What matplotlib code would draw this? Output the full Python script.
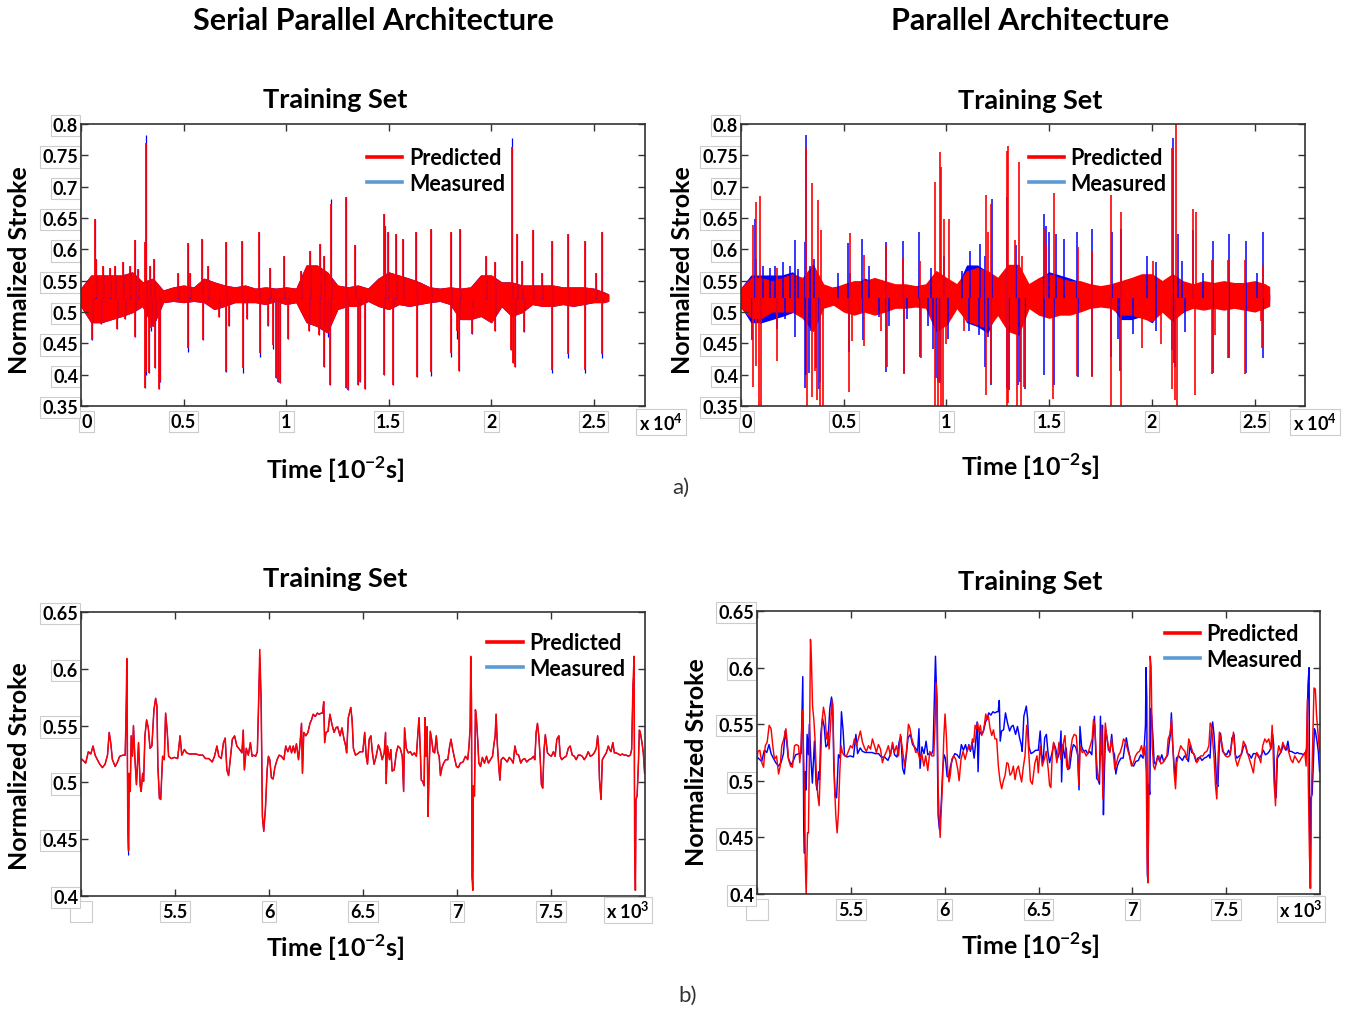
import numpy as np
import matplotlib
matplotlib.use("Agg")
import matplotlib.pyplot as plt
from matplotlib.lines import Line2D

plt.rcParams['font.family'] = ['Lato', 'DejaVu Sans']
plt.rcParams['mathtext.fontset'] = 'custom'
plt.rcParams['mathtext.rm'] = 'Lato'
plt.rcParams['mathtext.bf'] = 'Lato:bold'

# ---------------- top row: full training set (samples 0..25700) ----------------
# core band of the signal, read every 500 samples (upper / lower edge)
band_t = np.r_[np.arange(0, 26000, 500), 25700]
meas_hi = [.537, .558, .558, .558, .558, .563, .547, .553, .534, .539, .542, .539, .553,
           .547, .542, .539, .542, .537, .539, .537, .539, .537, .574, .574, .563, .542,
           .539, .542, .537, .553, .563, .558, .553, .547, .539, .537, .539, .537, .539,
           .558, .558, .547, .547, .542, .542, .542, .542, .539, .539, .539, .537, .531, .528]
meas_lo = [.510, .484, .484, .489, .494, .500, .510, .478, .516, .518, .516, .518, .516,
           .505, .510, .516, .516, .516, .513, .518, .513, .516, .484, .478, .468, .505,
           .510, .510, .518, .510, .505, .513, .510, .513, .516, .518, .513, .489, .489,
           .494, .484, .510, .494, .500, .513, .510, .510, .513, .510, .513, .516, .516, .518]
pp_hi = [.538, .554, .554, .549, .554, .560, .554, .575, .544, .538, .544, .549, .549,
         .554, .549, .544, .544, .541, .544, .565, .554, .544, .565, .570, .565, .554,
         .575, .575, .544, .554, .560, .554, .549, .549, .544, .541, .544, .549, .554,
         .560, .560, .549, .560, .549, .544, .549, .546, .549, .546, .546, .549, .544, .540]
pp_lo = [.507, .491, .491, .501, .501, .501, .491, .470, .507, .512, .501, .496, .501,
         .496, .501, .507, .507, .509, .507, .470, .480, .507, .486, .480, .475, .496,
         .470, .464, .507, .496, .491, .496, .496, .501, .507, .509, .507, .496, .496,
         .491, .486, .501, .486, .501, .507, .504, .507, .504, .507, .504, .501, .507, .510]

# isolated spikes of the measured stroke
meas_up_t = [676, 747, 1086, 1406, 1673, 2029, 2385, 2652, 2795, 3133, 3168, 3364, 3542,
             4735, 5215, 5322, 5910, 6212, 7049, 7868, 8686, 9238, 9897, 10733, 11160,
             11641, 11855, 12193, 12923, 13368, 14756, 14845, 14970, 15344, 15700, 16340,
             17088, 18049, 18494, 19758, 20203, 21004, 21253, 21485, 22019, 22464, 22962,
             23745, 24564, 25098, 25418]
meas_up_v = [.648, .584, .574, .571, .574, .580, .574, .615, .569, .611, .782, .574, .584,
             .562, .610, .563, .617, .574, .611, .613, .628, .571, .590, .566, .598,
             .608, .590, .680, .683, .607, .657, .637, .627, .624, .616, .628,
             .633, .628, .632, .590, .579, .777, .624, .582, .631, .563, .613,
             .624, .613, .563, .628]
meas_dn_t = [516, 997, 1744, 2154, 2652, 3115, 3186, 3311, 3418, 3631, 3791, 3830, 5233,
             5945, 6711, 7049, 7227, 7921, 8081, 8704, 9114, 9345, 9505, 9612, 9701,
             10093, 11107, 11606, 11855, 12033, 12157, 12940, 13030, 13492, 13599, 13831,
             14756, 15237, 16394, 17088, 18031, 18334, 18441, 19064, 20185, 20986, 21075,
             21146, 21610, 22962, 23745, 24564, 25400]
meas_dn_v = [.455, .481, .473, .489, .460, .379, .399, .402, .469, .410, .377, .388, .436,
             .456, .492, .404, .478, .402, .489, .428, .478, .441, .394, .388, .386,
             .457, .470, .463, .412, .460, .383, .378, .375, .383, .388, .377,
             .399, .383, .397, .398, .428, .457, .406, .465, .470, .439, .418,
             .412, .468, .402, .427, .402, .427]
# serial-parallel prediction: same spikes, slightly short where the blue tip shows
sp_up_fix = {3168: .770, 12193: .672, 21004: .764}
sp_dn_fix = {3186: .405, 3418: .475, 5233: .442, 7921: .410, 8704: .435, 9345: .448,
             12033: .466, 17088: .404, 18031: .434, 18334: .470, 22962: .408,
             23745: .433, 24564: .408, 25400: .433}

# parallel prediction spikes
pp_up_t = [567, 745, 922, 1755, 3174, 3457, 3759, 3901, 5284, 5975, 7074, 7890, 8723,
           9432, 9663, 9752, 9876, 10141, 11915, 12021, 12181, 12943, 13014, 13333, 13510,
           13688, 14805, 14840, 15230, 16400, 17092, 18031, 18510, 20035, 20957, 21187,
           21985, 22127, 22907, 23705, 24538, 25389]
pp_up_v = [.639, .676, .685, .570, .763, .706, .678, .631, .626, .591, .607, .586, .582,
           .708, .756, .731, .649, .649, .686, .628, .673, .757, .765, .615, .739,
           .589, .633, .607, .690, .604, .598, .686, .659, .582, .761, .810,
           .665, .659, .583, .583, .583, .575]
pp_dn_t = [567, 745, 869, 975, 1773, 3191, 3457, 3581, 3723, 3847, 3971, 5266, 5390,
           5975, 6808, 7092, 7925, 8758, 9432, 9574, 9716, 9840, 9964, 10851, 11915,
           12181, 12943, 13014, 13457, 13617, 13776, 15195, 16347, 17091, 18031, 18475,
           19538, 20461, 20993, 21099, 21223, 22073, 22907, 23049, 23705, 24538, 25301, 25336]
pp_dn_v = [.380, .414, .340, .340, .422, .340, .364, .406, .359, .340, .340, .372, .454,
           .446, .470, .412, .401, .427, .340, .340, .340, .340, .449, .470, .367,
           .385, .340, .354, .340, .340, .380, .361, .398, .396, .340, .340,
           .443, .449, .377, .359, .340, .367, .401, .464, .427, .401, .486, .443]

# ---------------- bottom row: zoom on samples 5000..8000 ----------------
bot_t = [5000, 5007, 5025, 5039, 5052, 5064, 5075, 5087, 5100, 5114, 5128, 5141, 5150,
         5158, 5167, 5182, 5194, 5206, 5224, 5235, 5239, 5244, 5247, 5249, 5253, 5256,
         5262, 5267, 5274, 5279, 5287, 5295, 5306, 5315, 5320, 5328, 5333, 5340, 5349,
         5358, 5367, 5377, 5388, 5397, 5404, 5409, 5417, 5424, 5434, 5443, 5450, 5459,
         5466, 5479, 5497, 5514, 5527, 5536, 5550, 5562, 5577, 5595, 5612, 5630, 5648,
         5662, 5680, 5698, 5710, 5723, 5733, 5746, 5758, 5767, 5776, 5785, 5794, 5805,
         5817, 5829, 5844, 5856, 5863, 5869, 5879, 5890, 5901, 5910, 5918, 5929, 5938,
         5943, 5951, 5958, 5961, 5965, 5972, 5981, 5990, 5997, 6004, 6013, 6022, 6031,
         6043, 6054, 6066, 6079, 6089, 6100, 6111, 6120, 6129, 6137, 6146, 6157, 6164,
         6173, 6178, 6185, 6196, 6207, 6218, 6226, 6235, 6246, 6257, 6267, 6278, 6285,
         6291, 6296, 6303, 6314, 6324, 6335, 6346, 6356, 6365, 6378, 6388, 6399, 6408,
         6413, 6422, 6435, 6442, 6449, 6460, 6470, 6485,
         6499, 6509, 6517, 6524, 6533, 6542, 6550, 6559, 6570, 6582, 6591, 6602, 6613,
         6620, 6623, 6630, 6641, 6648, 6655, 6666, 6677, 6686, 6698, 6709, 6716, 6721,
         6730, 6741, 6752, 6762, 6773, 6784, 6791, 6798, 6805, 6810, 6817, 6825, 6830,
         6835, 6841, 6846, 6851, 6858, 6865, 6873, 6881, 6890, 6897, 6905, 6912, 6920,
         6929, 6940, 6951, 6961, 6968, 6977, 6986, 6997, 7007, 7018, 7032, 7045, 7057,
         7064, 7070, 7073, 7077, 7080, 7084, 7087, 7093, 7098, 7103, 7111, 7116, 7125,
         7135, 7146, 7157, 7167, 7178, 7189, 7196, 7203, 7208, 7214, 7221, 7228, 7235,
         7246, 7257, 7267, 7278, 7289, 7299, 7308, 7317, 7328, 7339, 7349, 7360, 7371,
         7383, 7396, 7407, 7414, 7421, 7428, 7435, 7442, 7449, 7456, 7463, 7470, 7481,
         7492, 7502, 7513, 7522, 7531, 7542, 7549, 7557, 7570, 7581, 7592, 7602, 7613,
         7624, 7634, 7645, 7656, 7666, 7677, 7688, 7698, 7709, 7720, 7730, 7741, 7748,
         7753, 7758, 7766, 7773, 7783, 7794, 7805, 7812, 7819, 7829, 7837, 7847, 7858,
         7869, 7879, 7890, 7901, 7911, 7922, 7929, 7936, 7942, 7945, 7949, 7952, 7958,
         7965, 7970, 7975, 7984, 7991, 7998]
bot_meas = [.521, .520, .517, .527, .525, .532, .524, .520, .516, .513, .516, .524, .544,
            .535, .520, .514, .518, .523, .524, .524, .553, .592, .511, .461, .436, .508,
            .492, .541, .523, .550, .520, .498, .535, .497, .492, .508, .501, .541, .555,
            .548, .530, .532, .564, .574, .567, .514, .486, .485, .523, .520, .561, .544,
            .523, .521, .522, .521, .541, .524, .529, .526, .525, .525, .525, .524, .524,
            .521, .521, .518, .523, .532, .523, .521, .535, .539, .511, .506, .520, .538,
            .541, .532, .529, .526, .546, .511, .530, .524, .535, .523, .524, .523, .527,
            .558, .610, .573, .529, .470, .457, .477, .511, .523, .520, .504, .503, .513,
            .520, .524, .523, .520, .532, .527, .532, .526, .532, .526, .534, .520, .532,
            .552, .508, .544, .541, .544, .552, .555, .560, .558, .561, .560, .561, .561,
            .571, .535, .544, .545, .560, .551, .544, .548, .549, .541, .548, .538, .532,
            .526, .557, .566, .555, .530, .524, .525, .527,
            .527, .544, .523, .516, .538, .541, .526, .516, .523, .533, .529, .520, .526,
            .544, .499, .532, .520, .529, .510, .511, .526, .532, .530, .523, .492, .548,
            .530, .526, .527, .524, .526, .523, .541, .557, .527, .502, .501, .497, .557,
            .523, .549, .470, .508, .545, .538, .527, .526, .541, .527, .523, .506, .513,
            .517, .520, .520, .532, .538, .529, .522, .514, .513, .517, .518, .523, .520,
            .532, .549, .600, .573, .417, .410, .497, .488, .564, .557, .535, .517, .514,
            .522, .517, .523, .517, .520, .523, .533, .541, .560, .535, .517, .502, .520,
            .522, .520, .518, .522, .520, .517, .532, .525, .524, .517, .520, .521, .518,
            .520, .521, .523, .520, .544, .552, .541, .523, .498, .495, .529, .542, .526,
            .524, .523, .527, .523, .538, .541, .523, .520, .522, .523, .530, .532, .524,
            .523, .520, .524, .524, .523, .520, .523, .527, .523, .524, .526, .530, .541,
            .532, .502, .485, .520, .523, .526, .532, .529, .527, .535, .526, .526, .525,
            .524, .525, .524, .524, .523, .524, .529, .585, .600, .447, .405, .485, .488,
            .517, .546, .544, .535, .526, .508]
# where the serial-parallel prediction departs from the measurement
sp_bot_fix = {5244: .609, 5253: .440, 5951: .617, 7073: .611, 7084: .405, 7942: .611}

pp_bot_t = [5000, 5005, 5015, 5026, 5035, 5044, 5054, 5065, 5075, 5084, 5093, 5104, 5115,
            5124, 5132, 5143, 5154, 5161, 5168, 5179, 5189, 5200, 5210, 5221, 5228, 5235,
            5242, 5250, 5257, 5262, 5269, 5274, 5280, 5285, 5290, 5296, 5303, 5310, 5317,
            5324, 5331, 5338, 5345, 5354, 5363, 5370, 5377, 5384, 5391, 5399, 5406, 5413,
            5420, 5427, 5434, 5441, 5448, 5455, 5466, 5477, 5487, 5498, 5509, 5519, 5530,
            5541, 5551, 5562, 5573, 5583, 5594, 5605, 5615, 5626, 5636, 5647, 5658, 5668,
            5679, 5690, 5700, 5711, 5722, 5732, 5743, 5754, 5764, 5775, 5786, 5796, 5807,
            5814, 5825, 5836, 5846, 5857, 5867, 5878, 5889, 5899, 5910, 5921, 5931, 5942,
            5949, 5954, 5960, 5965, 5970, 5976, 5981, 5988, 5995, 6002, 6009, 6016, 6023,
            6030, 6038, 6048, 6059, 6070, 6077, 6087, 6098, 6109, 6119, 6130, 6141, 6148,
            6155, 6162, 6169, 6176, 6183, 6190, 6197, 6205, 6212, 6219, 6226, 6233, 6242,
            6251, 6260, 6268, 6277, 6286, 6295, 6304, 6313, 6322, 6331, 6339, 6348, 6357,
            6366, 6375, 6384, 6393, 6402, 6410, 6419, 6428, 6437, 6442, 6449, 6457, 6467,
            6481, 6492, 6499, 6509, 6520, 6531, 6541, 6552, 6559, 6566, 6573, 6580, 6588,
            6598, 6609, 6619, 6630, 6641, 6650, 6659, 6669, 6680, 6690, 6701, 6708, 6715,
            6722, 6733, 6744, 6754, 6765, 6776, 6786, 6793, 6800, 6808, 6815, 6822, 6829,
            6836, 6843, 6848, 6856, 6863, 6872, 6880, 6889, 6898, 6907, 6916, 6925, 6935,
            6946, 6953, 6964, 6974, 6985, 6996, 7006, 7017, 7028, 7038, 7049, 7060, 7067,
            7074, 7079, 7083, 7088, 7092, 7095, 7100, 7106, 7113, 7120, 7131, 7141, 7152,
            7163, 7173, 7184, 7191, 7200, 7209, 7216, 7223, 7230, 7237, 7248, 7258, 7269,
            7280, 7290, 7301, 7312, 7322, 7333, 7344, 7354, 7365, 7376, 7386, 7397, 7408,
            7415, 7422, 7429, 7436, 7443, 7450, 7457, 7464, 7475, 7486, 7496, 7507, 7518,
            7528, 7539, 7550, 7560, 7571, 7582, 7592, 7603, 7613, 7624, 7635, 7645, 7653,
            7663, 7674, 7684, 7695, 7706, 7716, 7727, 7738, 7745, 7750, 7755, 7763, 7770,
            7780, 7791, 7802, 7812, 7823, 7834, 7844, 7855, 7865, 7876, 7887, 7897, 7908,
            7919, 7926, 7933, 7938, 7944, 7949, 7954, 7961, 7968, 7975, 7982, 7998]
pp_bot = [.519, .526, .527, .516, .512, .531, .534, .549, .546, .531, .519, .522, .506,
          .513, .531, .537, .546, .534, .519, .513, .512, .531, .532, .531, .516, .531,
          .562, .513, .431, .399, .454, .454, .534, .625, .607, .566, .554, .534, .501,
          .487, .478, .513, .549, .565, .557, .537, .543, .528, .546, .571, .549, .496,
          .469, .454, .472, .507, .531, .525, .522, .522, .526, .531, .529, .537, .531,
          .538, .544, .534, .529, .526, .531, .528, .537, .531, .525, .532, .528, .516,
          .522, .526, .531, .522, .534, .525, .531, .522, .541, .528, .513, .525, .550,
          .547, .537, .531, .525, .526, .519, .524, .513, .522, .509, .526, .522, .522,
          .551, .587, .572, .496, .469, .450, .472, .496, .537, .559, .540, .510, .499,
          .505, .519, .522, .519, .510, .500, .519, .526, .519, .526, .531, .528, .537,
          .534, .549, .546, .551, .543, .549, .540, .543, .550, .559, .554, .557, .546,
          .540, .545, .537, .537, .513, .500, .493, .500, .505, .516, .515, .505, .507,
          .513, .501, .510, .513, .505, .499, .512, .522, .549, .543, .522, .500, .497,
          .516, .522, .507, .531, .513, .519, .526, .510, .496, .494, .522, .534, .528,
          .516, .534, .519, .531, .540, .513, .510, .525, .537, .541, .540, .525, .496,
          .531, .525, .526, .522, .525, .531, .537, .554, .549, .522, .505, .500, .519,
          .549, .484, .513, .551, .540, .531, .525, .537, .525, .510, .516, .522, .525,
          .531, .537, .534, .528, .522, .513, .516, .522, .525, .526, .531, .522, .531,
          .507, .431, .410, .493, .560, .610, .601, .531, .513, .510, .519, .522, .515,
          .516, .519, .522, .537, .541, .554, .531, .507, .493, .516, .525, .531, .528,
          .526, .519, .537, .531, .525, .522, .516, .519, .522, .522, .525, .526, .531,
          .551, .549, .534, .519, .496, .484, .522, .543, .534, .525, .522, .521, .522,
          .531, .543, .519, .513, .519, .525, .535, .531, .525, .519, .513, .507, .519,
          .525, .522, .516, .531, .537, .534, .537, .528, .549, .528, .499, .478, .519,
          .531, .525, .534, .528, .531, .525, .519, .516, .522, .519, .516, .519, .522,
          .525, .513, .572, .496, .434, .405, .484, .534, .582, .581, .557, .525]

RED = '#ff0000'
BLUE = '#0000ff'
BASE = 0.523

sp_up_v = [sp_up_fix.get(t, v) for t, v in zip(meas_up_t, meas_up_v)]
sp_dn_v = [sp_dn_fix.get(t, v) for t, v in zip(meas_dn_t, meas_dn_v)]
bot_sp = [sp_bot_fix.get(t, v) for t, v in zip(bot_t, bot_meas)]


def draw_full(ax, hi, lo, up_t, up_v, dn_t, dn_v, color, lw):
    ax.fill_between(band_t, lo, hi, facecolor=color, edgecolor=color, lw=1.0)
    ax.vlines(up_t, BASE, up_v, color=color, lw=lw)
    ax.vlines(dn_t, dn_v, BASE, color=color, lw=lw)


def style(ax, xlim, xticks, xlabels, ylim, yticks, ylabels):
    ax.set_xlim(xlim)
    ax.set_ylim(ylim)
    ax.set_xticks(xticks)
    ax.set_xticklabels(xlabels, fontsize=13, fontweight='bold')
    ax.set_yticks(yticks)
    ax.set_yticklabels(ylabels, fontsize=13, fontweight='bold')
    ax.tick_params(direction='in', top=True, right=True, length=5, width=1,
                   color='#333333')
    ax.tick_params(axis='y', pad=2)
    ax.tick_params(axis='x', pad=5)
    for s in ax.spines.values():
        s.set_color('#333333')
        s.set_linewidth(1.2)
    for lbl in ax.get_xticklabels() + ax.get_yticklabels():
        lbl.set_bbox(dict(boxstyle='square,pad=0.12', fc='white', ec='#cccccc', lw=0.8))


def add_legend(ax, x, y):
    handles = [Line2D([], [], color=RED, lw=2.6), Line2D([], [], color='#5b9bd5', lw=2.6)]
    ax.legend(handles, ['Predicted', 'Measured'], loc='upper left', bbox_to_anchor=(x, y),
              frameon=False, borderpad=0, borderaxespad=0, handlelength=1.65,
              handletextpad=0.3, labelspacing=0.2,
              prop={'size': 15.5, 'weight': 'bold'})


W, H = 1349, 1012
fig = plt.figure(figsize=(W / 100, H / 100), dpi=100)


def box(left, right, top, bottom):
    return [left / W, 1 - bottom / H, (right - left) / W, (bottom - top) / H]


ax1 = fig.add_axes(box(81, 645, 125, 407))
ax2 = fig.add_axes(box(741, 1305, 125, 407))
ax3 = fig.add_axes(box(81, 645, 613, 897))
ax4 = fig.add_axes(box(757, 1320, 612, 895))

top_xt = [0, 5000, 10000, 15000, 20000, 25000]
top_xl = ['0', '0.5', '1', '1.5', '2', '2.5']
top_yt = [0.35, 0.4, 0.45, 0.5, 0.55, 0.6, 0.65, 0.7, 0.75, 0.8]
top_yl = ['0.35', '0.4', '0.45', '0.5', '0.55', '0.6', '0.65', '0.7', '0.75', '0.8']
bot_xt = [5000, 5500, 6000, 6500, 7000, 7500]
bot_xl = ['    ', '5.5', '6', '6.5', '7', '7.5']
bot_yt = [0.4, 0.45, 0.5, 0.55, 0.6, 0.65]
bot_yl = ['0.4', '0.45', '0.5', '0.55', '0.6', '0.65']

# top-left: serial parallel architecture
draw_full(ax1, meas_hi, meas_lo, meas_up_t, meas_up_v, meas_dn_t, meas_dn_v, BLUE, 0.9)
draw_full(ax1, meas_hi, meas_lo, meas_up_t, sp_up_v, meas_dn_t, sp_dn_v, RED, 1.3)
style(ax1, (0, 27500), top_xt, top_xl, (0.35, 0.8), top_yt, top_yl)
add_legend(ax1, 0.507, 0.917)

# top-right: parallel architecture
draw_full(ax2, meas_hi, meas_lo, meas_up_t, meas_up_v, meas_dn_t, meas_dn_v, BLUE, 1.1)
draw_full(ax2, pp_hi, pp_lo, pp_up_t, pp_up_v, pp_dn_t, pp_dn_v, RED, 1.2)
style(ax2, (0, 27450), top_xt, top_xl, (0.35, 0.8), top_yt, top_yl)
add_legend(ax2, 0.510, 0.917)

# bottom-left
ax3.plot(bot_t, bot_meas, color=BLUE, lw=0.8)
ax3.plot(bot_t, bot_sp, color=RED, lw=1.1)
style(ax3, (5000, 8000), bot_xt, bot_xl, (0.4, 0.65), bot_yt, bot_yl)
add_legend(ax3, 0.720, 0.928)

# bottom-right
ax4.plot(bot_t, bot_meas, color=BLUE, lw=1.05)
ax4.plot(pp_bot_t, pp_bot, color=RED, lw=1.05)
style(ax4, (5000, 8000), bot_xt, bot_xl, (0.4, 0.65), bot_yt, bot_yl)
add_legend(ax4, 0.724, 0.956)

for ax in (ax1, ax2):
    ax.get_xticklabels()[0].set_horizontalalignment('left')


# text around the panels
def ftext(x, y, s, **kw):
    fig.text(x / W, 1 - y / H, s, ha=kw.pop('ha', 'center'), va=kw.pop('va', 'center'), **kw)


ftext(373, 21, 'Serial Parallel Architecture', fontsize=22, fontweight='bold')
ftext(1030, 21, 'Parallel Architecture', fontsize=22, fontweight='bold')
for x, y in [(335, 100), (1030, 101), (335, 579), (1030, 582)]:
    ftext(x, y, 'Training Set', fontsize=19.5, fontweight='bold')
for x, y in [(20, 270), (683, 270), (20, 766), (697, 762)]:
    ftext(x, y, 'Normalized Stroke', fontsize=18, fontweight='bold', rotation=90)
for x, y in [(335, 470), (1030, 467), (335, 948), (1030, 946)]:
    ftext(x, y, r'Time [10$^{\mathbf{-2}}$s]', fontsize=18, fontweight='bold')

offs = dict(boxstyle='square,pad=0.15', fc='white', ec='#cccccc', lw=0.8)
ftext(661, 423, r'x 10$^{\mathbf{4}}$', fontsize=13, fontweight='bold', bbox=offs)
ftext(1293, 423, r'x 10$^{\mathbf{4}}$', fontsize=13, fontweight='bold', bbox=offs, ha='left')
ftext(628, 911, r'x 10$^{\mathbf{3}}$', fontsize=13, fontweight='bold', bbox=offs)
ftext(1301, 910, r'x 10$^{\mathbf{3}}$', fontsize=13, fontweight='bold', bbox=offs)

ftext(681, 488, 'a)', fontsize=16, color='#333333')
ftext(688, 996, 'b)', fontsize=16, color='#333333')

fig.savefig('out.png', dpi=100)
